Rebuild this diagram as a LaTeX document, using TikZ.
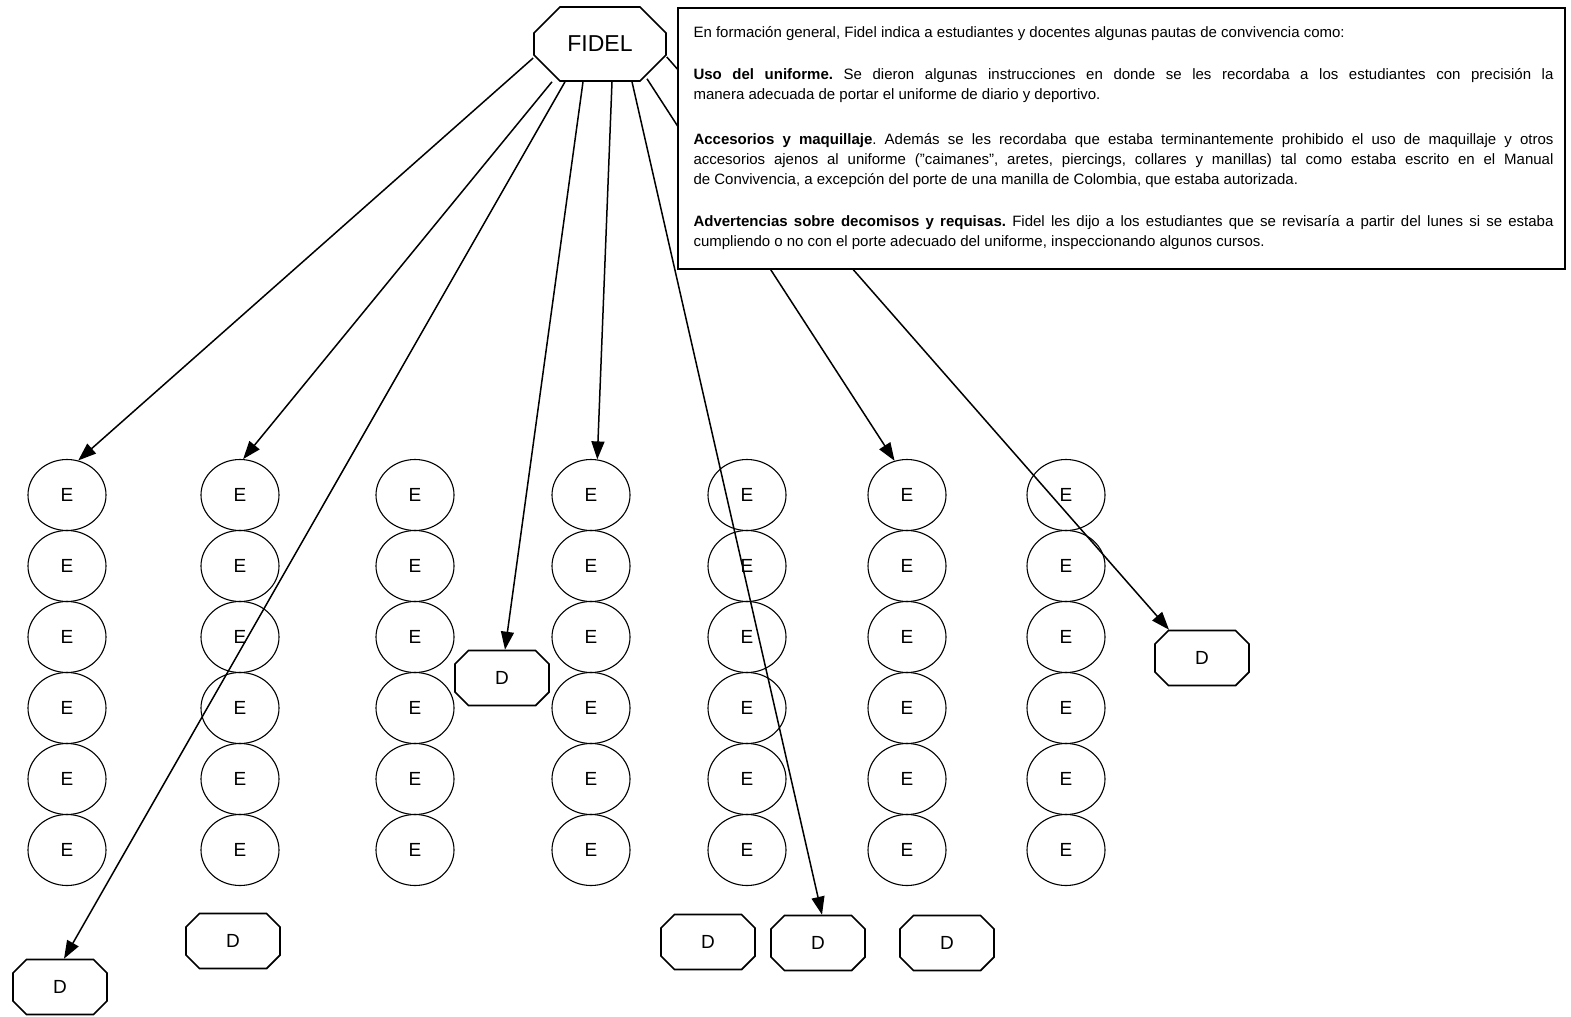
\documentclass[tikz,border=0pt]{standalone}
\usepackage{fontspec}
\setmainfont{Liberation Sans}
\usetikzlibrary{shapes.misc,shapes.geometric,arrows.meta}
\newcommand\jline[1]{\makebox[860pt][s]{#1}}
\begin{document}
\frenchspacing
\begin{tikzpicture}[x=1pt,y=-1pt,
  ecirc/.style={ellipse,draw,line width=1.1pt,minimum width=78pt,minimum height=71pt,inner sep=0pt,font=\fontsize{19}{20}\selectfont},
  dbox/.style={chamfered rectangle,draw,line width=1.6pt,minimum width=94pt,minimum height=55pt,inner sep=0pt,chamfered rectangle xsep=14pt,chamfered rectangle ysep=14pt,font=\fontsize{19}{20}\selectfont},
  fidelbox/.style={chamfered rectangle,draw,line width=1.6pt,minimum width=132pt,minimum height=74pt,inner sep=0pt,chamfered rectangle xsep=18pt,chamfered rectangle ysep=18pt,font=\fontsize{23}{24}\selectfont},
  arr/.style={-{Triangle[length=18pt,width=13pt]},line width=1.5pt},
  infobox/.style={draw,line width=1.4pt,fill=white,minimum width=887pt,minimum height=261pt,inner sep=0pt},
  infotext/.style={align=left,inner sep=0pt,font=\fontsize{15}{20}\selectfont}]
\fill[white] (0,0) rectangle (1571,1017);
\useasboundingbox (0,0) rectangle (1571,1017);
% student ellipses
\foreach \x [count=\c] in {67,240,415,591,747,907,1066}
  \foreach \y [count=\r] in {495,566,637,708,779,850}
    \node[ecirc] (e\c\r) at (\x,\y) {E};
% D nodes
\node[dbox] (d1) at (60,987) {D};
\node[dbox] (d2) at (233,941) {D};
\node[dbox] (d3) at (502,678) {D};
\node[dbox] (d4) at (708,942) {D};
\node[dbox] (d5) at (818,943) {D};
\node[dbox] (d6) at (947,943) {D};
\node[dbox] (d7) at (1202,658) {D};
% FIDEL
\node[fidelbox] (fidel) at (600,44) {FIDEL};
% arrows
\draw[arr] ([yshift=-14pt]fidel.west) -- (e11.72);
\draw[arr] ([xshift=-48pt]fidel.south) -- (e21.85);
\draw[arr] ([xshift=-35pt]fidel.south) -- ([xshift=4pt]d1.north);
\draw[arr] ([xshift=-17pt]fidel.south) -- ([xshift=3pt]d3.north);
\draw[arr] ([xshift=12pt]fidel.south) -- (e41.80);
\draw[arr] ([xshift=32pt]fidel.south) -- ([xshift=4pt]d5.north);
\draw[arr] ([xshift=47pt,yshift=3pt]fidel.south) -- (e61.110);
\draw[arr] ([yshift=-13pt]fidel.east) -- ([xshift=-33pt]d7.north);
% info box
\node[infobox] (info) at (1121.5,138.5) {};
\node[infotext,anchor=north west] (infotext) at ([xshift=16pt,yshift=-19pt]info.north west) {%
En formación general, Fidel indica a estudiantes y docentes algunas pautas de convivencia como:\\[22pt]
\jline{\textbf{Uso del uniforme.} Se dieron algunas instrucciones en donde se les recordaba a los estudiantes con precisión la}\\
manera adecuada de portar el uniforme de diario y deportivo.\\[25pt]
\jline{\textbf{Accesorios y maquillaje}. Además se les recordaba que estaba terminantemente prohibido el uso de maquillaje y otros}\\
\jline{accesorios ajenos al uniforme ("caimanes", aretes, piercings, collares y manillas) tal como estaba escrito en el Manual}\\
de Convivencia, a excepción del porte de una manilla de Colombia, que estaba autorizada.\\[22pt]
\jline{\textbf{Advertencias sobre decomisos y requisas.} Fidel les dijo a los estudiantes que se revisaría a partir del lunes si se estaba}\\
cumpliendo o no con el porte adecuado del uniforme, inspeccionando algunos cursos.};
\end{tikzpicture}
\end{document}
